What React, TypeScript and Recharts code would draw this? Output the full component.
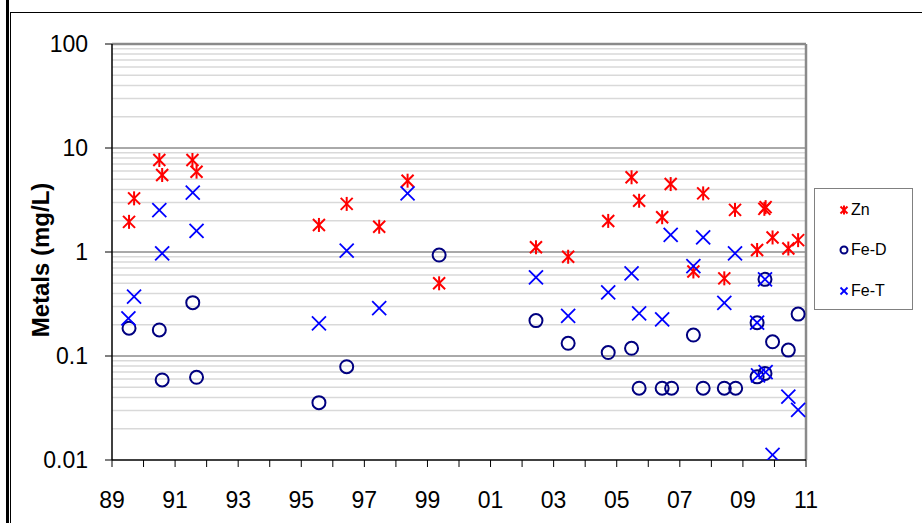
import React from "react";
import { ScatterChart, Scatter, XAxis, YAxis, ReferenceLine, Legend } from "recharts";

// [decimal year, mg/L]
const zn: [number, number][] = [
  [1989.54, 1.95], [1989.7, 3.28], [1990.5, 7.67], [1990.59, 5.5], [1991.55, 7.67], [1991.68, 5.92],
  [1995.56, 1.82], [1996.44, 2.9], [1997.47, 1.75], [1998.37, 4.85], [1999.37, 0.5],
  [2002.44, 1.11], [2003.46, 0.9], [2004.73, 1.99], [2005.47, 5.23], [2005.71, 3.11],
  [2006.44, 2.16], [2006.71, 4.5], [2007.43, 0.65], [2007.74, 3.66], [2008.41, 0.558],
  [2008.75, 2.54], [2009.45, 1.045], [2009.68, 2.6], [2009.72, 2.7], [2009.94, 1.38],
  [2010.44, 1.08], [2010.75, 1.3],
];

const feD: [number, number][] = [
  [1989.54, 0.185], [1990.5, 0.178], [1990.59, 0.0588], [1991.56, 0.326], [1991.68, 0.0624],
  [1995.56, 0.0356], [1996.44, 0.0789], [1999.37, 0.935], [2002.44, 0.219], [2003.46, 0.1325],
  [2004.73, 0.108], [2005.47, 0.1186], [2005.71, 0.049], [2006.44, 0.049], [2006.74, 0.049],
  [2007.43, 0.159], [2007.74, 0.049], [2008.41, 0.049], [2008.77, 0.049], [2009.45, 0.209],
  [2009.45, 0.063], [2009.7, 0.546], [2009.7, 0.068], [2009.94, 0.137], [2010.44, 0.114],
  [2010.75, 0.253],
];

const feT: [number, number][] = [
  [1989.52, 0.23], [1989.7, 0.372], [1990.5, 2.53], [1990.59, 0.97], [1991.56, 3.72], [1991.68, 1.6],
  [1995.56, 0.206], [1996.44, 1.03], [1997.47, 0.288], [1998.37, 3.66], [2002.44, 0.571],
  [2003.46, 0.243], [2004.73, 0.41], [2005.47, 0.624], [2005.71, 0.257], [2006.44, 0.225],
  [2006.71, 1.46], [2007.43, 0.733], [2007.74, 1.38], [2008.41, 0.325], [2008.75, 0.97],
  [2009.45, 0.209], [2009.48, 0.065], [2009.7, 0.546], [2009.72, 0.07], [2009.94, 0.0112],
  [2010.44, 0.0406], [2010.75, 0.0303],
];

const xTicks = [
  1989, 1990, 1991, 1992, 1993, 1994, 1995, 1996, 1997, 1998, 1999, 2000,
  2001, 2002, 2003, 2004, 2005, 2006, 2007, 2008, 2009, 2010, 2011,
];
const yTicks = [0.01, 0.1, 1, 10, 100];
const legendNames = ["Zn", "Fe-D", "Fe-T"];

const FONT = '"Liberation Sans", Arial, sans-serif';

const toPoints = (rows: [number, number][]) => rows.map(([x, y]) => ({ x, y }));

// light lines at 2..9 of each decade
const minorGrid: number[] = [];
for (const d of [0.01, 0.1, 1, 10]) {
  for (let m = 2; m <= 9; m++) minorGrid.push(+(d * m).toPrecision(3));
}

function Asterisk({ cx, cy, r = 6 }: { cx: number; cy: number; r?: number }) {
  return (
    <g stroke="#ff0000" strokeWidth={2}>
      <line x1={cx - r} y1={cy - r} x2={cx + r} y2={cy + r} />
      <line x1={cx - r} y1={cy + r} x2={cx + r} y2={cy - r} />
      <line x1={cx} y1={cy - r - 1} x2={cx} y2={cy + r + 1} />
    </g>
  );
}

function Cross({ cx, cy, r = 7 }: { cx: number; cy: number; r?: number }) {
  return (
    <g stroke="#0000ff" strokeWidth={1.8}>
      <line x1={cx - r} y1={cy - r} x2={cx + r} y2={cy + r} />
      <line x1={cx - r} y1={cy + r} x2={cx + r} y2={cy - r} />
    </g>
  );
}

function Ring({ cx, cy, r = 6.5 }: { cx: number; cy: number; r?: number }) {
  return <circle cx={cx} cy={cy} r={r} fill="none" stroke="#000080" strokeWidth={2} />;
}

function LegendBox() {
  const rows = [21, 61, 102];
  return (
    <div
      style={{
        width: 99,
        height: 122,
        border: "1px solid #808080",
        boxSizing: "border-box",
        position: "relative",
        background: "#fff",
        fontFamily: FONT,
        fontSize: 16,
        color: "#000",
      }}
    >
      {legendNames.map((name, i) => (
        <div
          key={name}
          style={{ position: "absolute", left: 22, top: rows[i] - 11, height: 22, display: "flex", alignItems: "center" }}
        >
          <svg width={14} height={14} style={{ display: "block" }}>
            {i === 0 && <Asterisk cx={7} cy={7} r={3.5} />}
            {i === 1 && <Ring cx={7} cy={7} r={3.5} />}
            {i === 2 && <Cross cx={7} cy={7} r={3.5} />}
          </svg>
          <span>{name}</span>
        </div>
      ))}
    </div>
  );
}

export default function App() {
  return (
    <div style={{ position: "relative", width: 922, height: 523, overflow: "hidden", background: "#fff" }}>
      <style>{"body{margin:0}"}</style>
      {/* outer frame */}
      <div style={{ position: "absolute", left: 6, top: 0, width: 3, height: 523, background: "#000" }} />
      <div style={{ position: "absolute", left: 10, top: 12, width: 940, height: 600, border: "1px solid #000" }} />
      <div style={{ position: "absolute", left: 0, top: 0 }}>
        <ScatterChart width={922} height={523} margin={{ top: 44, right: 116, bottom: 23, left: 0 }}>
          {minorGrid.map((v) => (
            <ReferenceLine key={`m${v}`} y={v} stroke="#d9d9d9" strokeWidth={1.5} />
          ))}
          {[0.1, 1, 10].map((v) => (
            <ReferenceLine key={`M${v}`} y={v} stroke="#555" strokeWidth={1} />
          ))}
          <ReferenceLine y={100} stroke="#8a8a8a" strokeWidth={2.5} />
          <ReferenceLine x={2011} stroke="#8a8a8a" strokeWidth={2.5} />
          <XAxis
            dataKey="x"
            type="number"
            domain={[1989, 2011]}
            ticks={xTicks}
            interval={0}
            allowDataOverflow
            height={40}
            tickSize={7}
            tickMargin={25}
            tickFormatter={(v: number) => (v % 2 === 1 ? String(v % 100).padStart(2, "0") : "")}
            axisLine={{ stroke: "#000", strokeWidth: 1.5 }}
            tickLine={{ stroke: "#000" }}
            tick={{ fill: "#000", fontSize: 23, fontFamily: FONT }}
          />
          <YAxis
            dataKey="y"
            type="number"
            scale="log"
            domain={[0.01, 100]}
            ticks={yTicks}
            interval={0}
            allowDataOverflow
            width={112}
            tickSize={7}
            tickMargin={17}
            tickFormatter={(v: number) => String(v)}
            axisLine={{ stroke: "#000", strokeWidth: 1.5 }}
            tickLine={{ stroke: "#000" }}
            tick={{ fill: "#000", fontSize: 23, fontFamily: FONT }}
            label={() => (
              <text
                x={0}
                y={0}
                transform="translate(49,260) rotate(-90)"
                textAnchor="middle"
                fontWeight="bold"
                fontSize={24}
                fontFamily={FONT}
                fill="#000"
              >
                Metals (mg/L)
              </text>
            )}
          />
          <Legend
            layout="horizontal"
            verticalAlign="middle"
            align="center"
            wrapperStyle={{ left: 814, top: 188, width: 99, height: 122 }}
            content={() => <LegendBox />}
          />
          <Scatter name="Zn" data={toPoints(zn)} isAnimationActive={false} shape={(p: any) => <Asterisk cx={p.cx} cy={p.cy} />} />
          <Scatter name="Fe-D" data={toPoints(feD)} isAnimationActive={false} shape={(p: any) => <Ring cx={p.cx} cy={p.cy} />} />
          <Scatter name="Fe-T" data={toPoints(feT)} isAnimationActive={false} shape={(p: any) => <Cross cx={p.cx} cy={p.cy} />} />
        </ScatterChart>
      </div>
    </div>
  );
}
